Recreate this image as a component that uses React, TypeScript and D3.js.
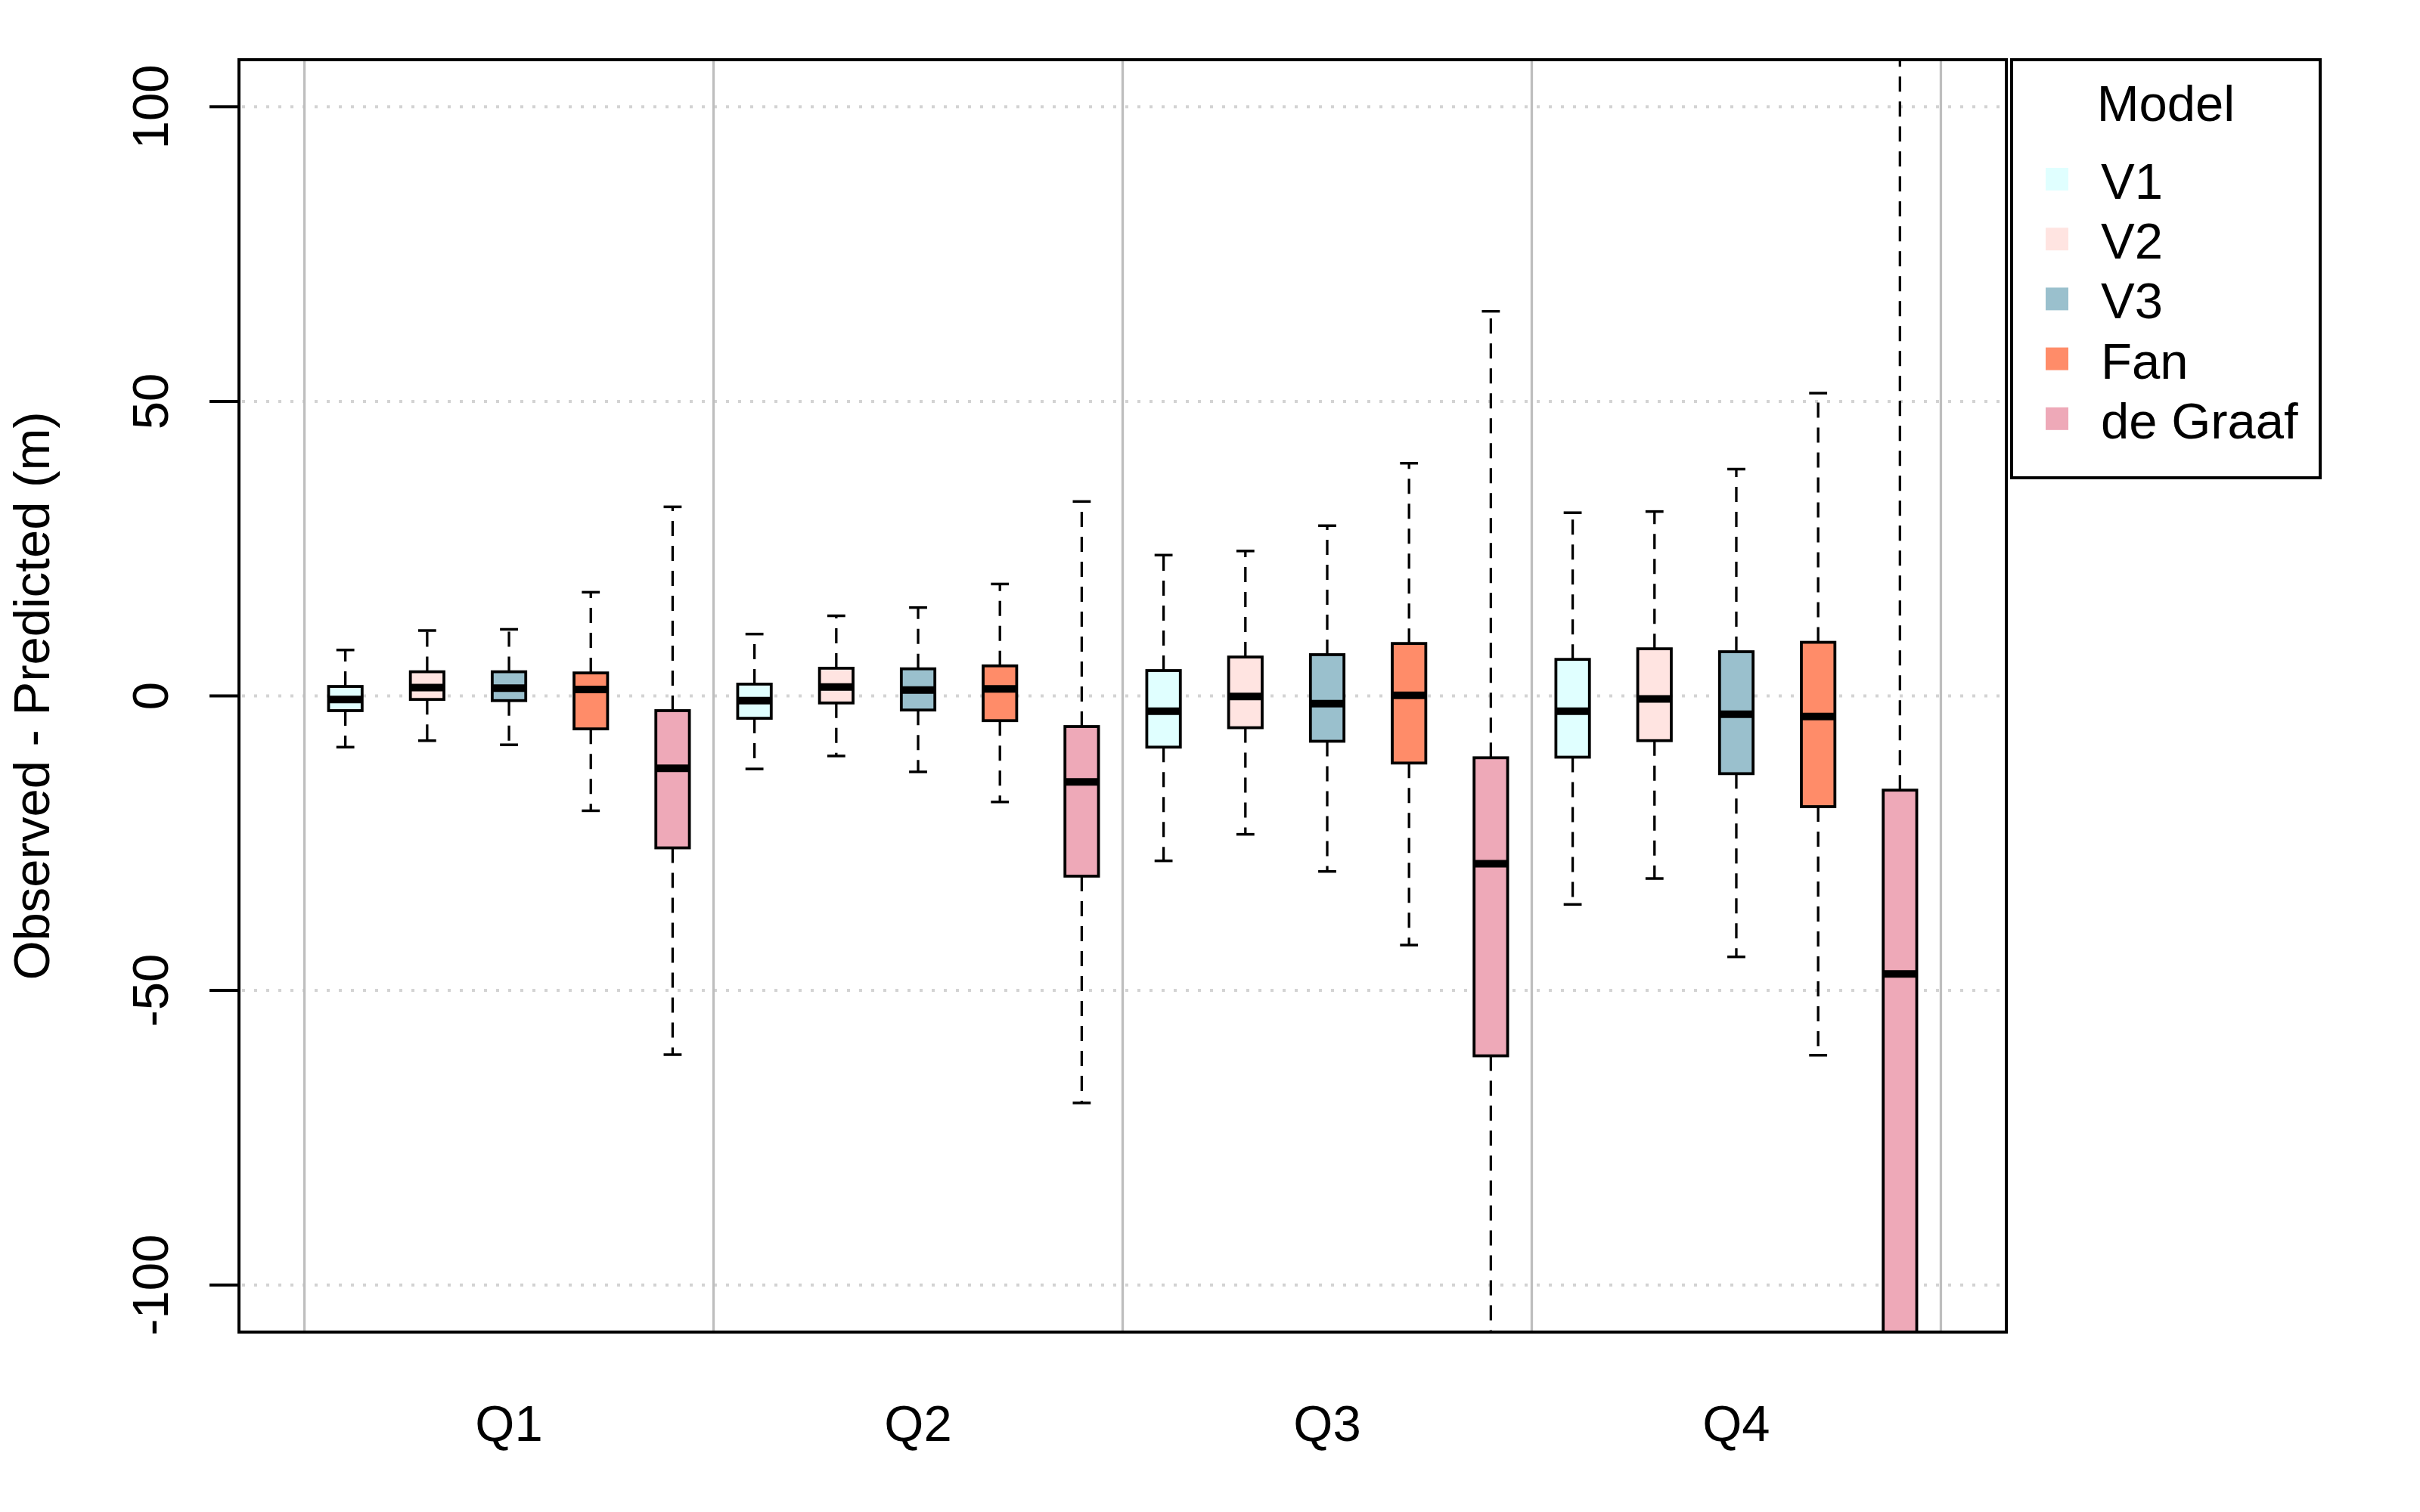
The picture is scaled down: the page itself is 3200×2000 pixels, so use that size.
import React from "react";
import * as d3 from "d3";

// ---- data ----
const quarters = ["Q1", "Q2", "Q3", "Q4"];
const models = ["V1", "V2", "V3", "Fan", "de Graaf"];
const modelColors = ["#E0FFFF", "#FFE4E1", "#9AC0CD", "#FF8C69", "#EEA9B8"];

// ordered Q1[V1,V2,V3,Fan,deGraaf], Q2[...], Q3[...], Q4[...]
const upperWhisker = [
  7.8, 11.1, 11.3, 17.6, 32.1,
  10.5, 13.6, 15.0, 19.0, 33.0,
  23.9, 24.6, 28.9, 39.5, 65.3,
  31.1, 31.3, 38.5, 51.4, 120,
];
const upperQuartile = [
  1.6, 4.1, 4.1, 3.9, -2.5,
  2.0, 4.7, 4.6, 5.1, -5.2,
  4.3, 6.6, 7.0, 8.9, -10.5,
  6.2, 8.0, 7.5, 9.1, -16.0,
];
const medians = [
  -0.6, 1.4, 1.3, 1.1, -12.3,
  -0.8, 1.5, 1.0, 1.2, -14.6,
  -2.6, -0.1, -1.3, 0.1, -28.5,
  -2.6, -0.5, -3.1, -3.5, -47.2,
];
const lowerQuartile = [
  -2.5, -0.6, -0.8, -5.6, -25.8,
  -3.8, -1.2, -2.4, -4.2, -30.6,
  -8.7, -5.4, -7.7, -11.4, -61.1,
  -10.4, -7.6, -13.2, -18.8, -125,
];
const lowerWhisker = [
  -8.7, -7.6, -8.3, -19.5, -60.9,
  -12.4, -10.2, -12.9, -18.0, -69.1,
  -28.0, -23.5, -29.8, -42.3, -150,
  -35.4, -31.0, -44.3, -61.0, -200,
];
const yTicks = [-100, -50, 0, 50, 100];

const W = 3200;
const H = 2000;
const plot = { left: 316, right: 2653, top: 79, bottom: 1762 };
const FONT = "'Liberation Sans', Arial, Helvetica, sans-serif";
const FS = 67;

export default function App() {
  const x = d3.scaleLinear().domain([-0.3, 21.3]).range([plot.left, plot.right]);
  const y = d3.scaleLinear().domain([-108, 108]).range([plot.bottom, plot.top]);
  const unit = x(1) - x(0);
  const boxW = 0.41 * unit;
  const stapleW = 0.22 * unit;

  const nM = models.length;
  const boxes = upperWhisker.map((_, i) => ({
    pos: i + 1,
    color: modelColors[i % nM],
    hi: upperWhisker[i],
    q3: upperQuartile[i],
    med: medians[i],
    q1: lowerQuartile[i],
    lo: lowerWhisker[i],
  }));
  const groupLines = d3.range(quarters.length + 1).map((g) => 0.5 + g * nM);

  const legend = { left: 2660, right: 3068, top: 79, bottom: 632 };
  const legendRowY = (k: number) => 237 + k * 79.2;

  return (
    <svg
      width={W}
      height={H}
      style={{ position: "absolute", left: 0, top: 0, background: "#fff" }}
      fontFamily={FONT}
    >
      <rect x={0} y={0} width={W} height={H} fill="#fff" />
      <defs>
        <clipPath id="plotClip">
          <rect x={plot.left} y={plot.top} width={plot.right - plot.left} height={plot.bottom - plot.top} />
        </clipPath>
      </defs>

      {/* grid */}
      <g clipPath="url(#plotClip)">
        {yTicks.map((t) => (
          <line
            key={"h" + t}
            x1={plot.left}
            x2={plot.right}
            y1={y(t)}
            y2={y(t)}
            stroke="#D3D3D3"
            strokeWidth={4}
            strokeDasharray="4 12"
            strokeDashoffset={-4}
          />
        ))}
        {groupLines.map((g) => (
          <line key={"v" + g} x1={x(g)} x2={x(g)} y1={plot.top} y2={plot.bottom} stroke="#BEBEBE" strokeWidth={3.3} />
        ))}
      </g>

      {/* boxes */}
      <g clipPath="url(#plotClip)">
        {boxes.map((b, i) => {
          const cx = x(b.pos);
          return (
            <g key={i}>
              <line x1={cx} x2={cx} y1={y(b.q3)} y2={y(b.hi)} stroke="#000" strokeWidth={3.3} strokeDasharray="20 13" />
              <line x1={cx} x2={cx} y1={y(b.q1)} y2={y(b.lo)} stroke="#000" strokeWidth={3.3} strokeDasharray="20 13" />
              <line x1={cx - stapleW / 2} x2={cx + stapleW / 2} y1={y(b.hi)} y2={y(b.hi)} stroke="#000" strokeWidth={3.5} />
              <line x1={cx - stapleW / 2} x2={cx + stapleW / 2} y1={y(b.lo)} y2={y(b.lo)} stroke="#000" strokeWidth={3.5} />
              <rect
                x={cx - boxW / 2}
                y={y(b.q3)}
                width={boxW}
                height={y(b.q1) - y(b.q3)}
                fill={b.color}
                stroke="#000"
                strokeWidth={3.8}
              />
              <line x1={cx - boxW / 2} x2={cx + boxW / 2} y1={y(b.med)} y2={y(b.med)} stroke="#000" strokeWidth={10} />
            </g>
          );
        })}
      </g>

      {/* frame */}
      <rect
        x={plot.left}
        y={plot.top}
        width={plot.right - plot.left}
        height={plot.bottom - plot.top}
        fill="none"
        stroke="#000"
        strokeWidth={4}
      />

      {/* y axis */}
      {yTicks.map((t) => (
        <g key={"t" + t}>
          <line x1={plot.left - 39} x2={plot.left} y1={y(t)} y2={y(t)} stroke="#000" strokeWidth={4} />
          <text
            transform={`translate(222, ${y(t)}) rotate(-90)`}
            textAnchor="middle"
            fontSize={FS}
            fill="#000"
          >
            {t}
          </text>
        </g>
      ))}
      <text
        transform={`translate(65, ${(plot.top + plot.bottom) / 2}) rotate(-90)`}
        textAnchor="middle"
        fontSize={FS}
        fill="#000"
      >
        Observed - Predicted (m)
      </text>

      {/* x labels */}
      {quarters.map((q, g) => (
        <text key={q} x={x(3 + g * nM)} y={1906} textAnchor="middle" fontSize={FS} fill="#000">
          {q}
        </text>
      ))}

      {/* legend */}
      <rect
        x={legend.left}
        y={legend.top}
        width={legend.right - legend.left}
        height={legend.bottom - legend.top}
        fill="#fff"
        stroke="#000"
        strokeWidth={4}
      />
      <text x={(legend.left + legend.right) / 2} y={160} textAnchor="middle" fontSize={FS} fill="#000">
        Model
      </text>
      {models.map((m, k) => (
        <g key={m}>
          <rect x={2705} y={legendRowY(k) - 15} width={30} height={30} fill={modelColors[k]} />
          <text x={2778} y={legendRowY(k) + 26} fontSize={FS} fill="#000">
            {m}
          </text>
        </g>
      ))}
    </svg>
  );
}
